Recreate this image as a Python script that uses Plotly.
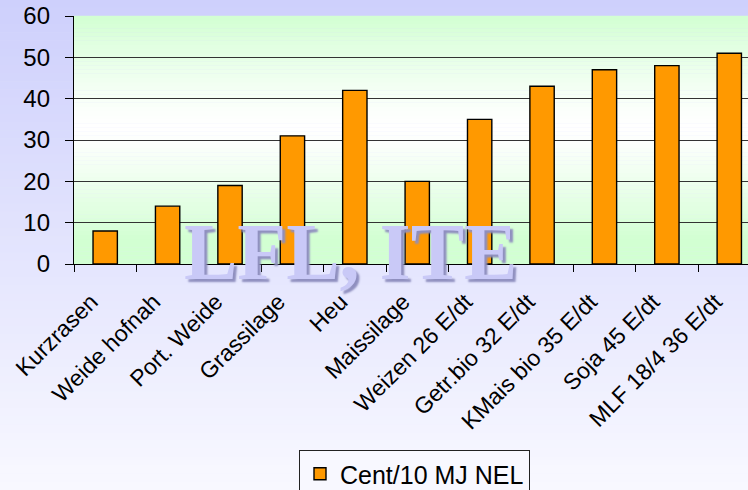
import plotly.graph_objects as go

categories = ["Kurzrasen", "Weide hofnah", "Port. Weide", "Grassilage", "Heu", "Maissilage",
              "Weizen 26 E/dt", "Getr.bio 32 E/dt", "KMais bio 35 E/dt", "Soja 45 E/dt", "MLF 18/4 36 E/dt"]
values = [8, 14, 19, 31, 42, 20, 35, 43, 47, 48, 51]
series_name = "Cent/10 MJ NEL"
y_ticks = [0, 10, 20, 30, 40, 50, 60]

W, H = 748, 490
L, R, T, B = 74, 0, 16, 226
plot_h = H - T - B
plot_w = W - L - R

fig = go.Figure()
fig.add_trace(go.Bar(
    x=categories, y=values, name=series_name,
    marker=dict(color="#ff9900", line=dict(color="#000000", width=1.4)),
    width=0.39, showlegend=True,
))

shapes = []
# paper background gradient (lavender)
n = 60
y0p = -B / plot_h
y1p = 1 + T / plot_h
x0p = -L / plot_w
x1p = 1 + R / plot_w + 0.01
top = (206, 208, 252)
bot = (248, 248, 255)
for i in range(n):
    f = i / (n - 1)
    c = tuple(round(top[k] + (bot[k] - top[k]) * f) for k in range(3))
    ya = y1p - (y1p - y0p) * i / n
    yb = y1p - (y1p - y0p) * (i + 1) / n
    shapes.append(dict(type="rect", xref="paper", yref="paper", x0=x0p, x1=x1p, y0=yb, y1=ya + 0.002,
                       fillcolor="rgb(%d,%d,%d)" % c, line=dict(width=0), layer="below"))
# plot area gradient (green - white - green)
green = (210, 255, 210)
white = (255, 255, 255)
m = 60
for i in range(m):
    t = (i + 0.5) / m
    d = abs(t - 0.55)
    f = min(1.0, d / 0.45)
    f = f ** 1.3
    c = tuple(round(white[k] + (green[k] - white[k]) * f) for k in range(3))
    shapes.append(dict(type="rect", xref="paper", yref="paper", x0=0, x1=1.01,
                       y0=i / m, y1=(i + 1) / m + 0.001,
                       fillcolor="rgb(%d,%d,%d)" % c, line=dict(width=0), layer="below"))

fig.update_layout(
    width=W, height=H,
    margin=dict(l=L, r=R, t=T, b=B, pad=0, autoexpand=False),
    paper_bgcolor="#e6e6fb",
    plot_bgcolor="rgba(0,0,0,0)",
    shapes=shapes,
    font=dict(family="Liberation Sans, Arial, sans-serif", color="#000000"),
    xaxis=dict(
        range=[-0.5, 10.3], showline=True, linecolor="#000000", linewidth=1.3,
        ticks="outside", tickson="boundaries", ticklen=7, tickcolor="#000000",
        tickangle=-45, tickfont=dict(size=23), showgrid=False,
        ticklabelstandoff=14, ticklabelshift=-14, automargin=False,
    ),
    yaxis=dict(
        range=[0, 60], tickvals=y_ticks, showline=True, linecolor="#000000", linewidth=1.3,
        ticks="outside", ticklen=8, tickcolor="#000000", tickfont=dict(size=24),
        showgrid=True, gridcolor="#333333", gridwidth=1.4, zeroline=False,
        ticklabelstandoff=10, automargin=False,
    ),
    legend=dict(
        orientation="h", x=(299 - L) / plot_w, y=(264 - 450) / plot_h,
        xanchor="left", yanchor="top",
        bgcolor="#f8f8ff", bordercolor="#222222", borderwidth=1,
        font=dict(size=25),
    ),
    annotations=[dict(
        text="LFL, ITE", xref="paper", yref="paper",
        x=(350 - L) / plot_w, y=(264 - 252) / plot_h,
        xanchor="center", yanchor="middle", showarrow=False,
        font=dict(family="Liberation Serif, Times New Roman, serif", size=80, color="#c9c9f7",
                  weight="bold", shadow="3px 3px 2px #8f8fbf"),
    )],
)

fig.write_html("out.html")
